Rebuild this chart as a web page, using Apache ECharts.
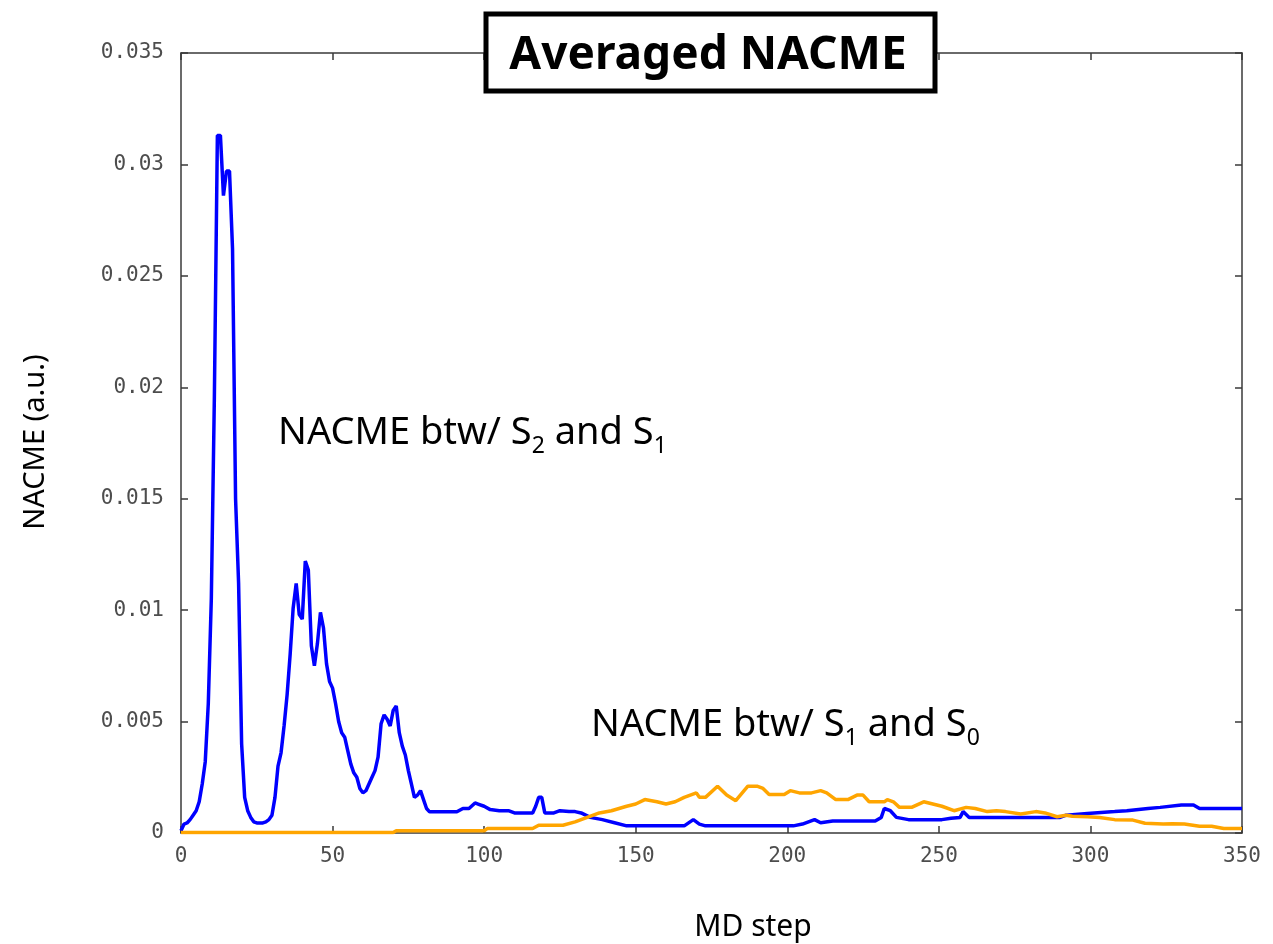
<!DOCTYPE html>
<html>
<head>
<meta charset="utf-8">
<script src="https://cdn.jsdelivr.net/npm/echarts@6/dist/echarts.min.js"></script>
<style>
  html, body { margin: 0; padding: 0; background: #fff; }
  #chart { width: 1273px; height: 944px; }
</style>
</head>
<body>
<div id="chart"></div>
<script>
// Averaged non-adiabatic coupling matrix elements along the MD trajectory

// S2-S1 coupling (blue)
const stepsS2S1 = [
  0, 1, 2, 3, 4, 5, 6, 7, 8, 9, 10, 11, 12, 13, 14, 15, 16, 17, 18, 19,
  20, 21, 22, 23, 24, 25, 26, 27, 28, 29, 30, 31, 32, 33, 34, 35, 36, 37, 38, 39,
  40, 41, 42, 43, 44, 45, 46, 47, 48, 49, 50, 51, 52, 53, 54, 55, 56, 57, 58, 59,
  60, 61, 62, 63, 64, 65, 66, 67, 68, 69, 70, 71, 72, 73, 74, 75, 76, 77, 78, 79,
  80, 81, 82, 86, 91, 93, 95, 97, 98, 100, 102, 105, 108, 110, 116, 117, 118, 119, 120, 123,
  125, 128, 130, 132, 135, 139, 143, 147, 166, 169, 171, 173, 202, 205, 209, 211, 215, 229, 231, 232,
  234, 236, 240, 251, 254, 257, 258, 260, 290, 292, 299, 308, 312, 319, 323, 330, 334, 336, 350
];
const nacmeS2S1 = [
  0.0001, 0.0004, 0.00045, 0.0006, 0.0008, 0.001, 0.0014, 0.0022, 0.0032, 0.0058,
  0.0105, 0.0195, 0.0313, 0.0313, 0.0286, 0.0297, 0.0297, 0.0262, 0.0150, 0.0112,
  0.0040, 0.0016, 0.0010, 0.0007, 0.0005, 0.00045, 0.00045, 0.00045, 0.0005, 0.0006,
  0.0008, 0.0016, 0.0030, 0.0036, 0.0048, 0.0062, 0.0080, 0.0101, 0.0112, 0.0098,
  0.0096, 0.0122, 0.0118, 0.0084, 0.0075, 0.0085, 0.0099, 0.0092, 0.0076, 0.0068,
  0.0065, 0.0058, 0.0050, 0.0045, 0.0043, 0.0037, 0.0031, 0.0027, 0.0025, 0.0020,
  0.0018, 0.0019, 0.0022, 0.0025, 0.0028, 0.0034, 0.0049, 0.0053, 0.0051, 0.0048,
  0.0055, 0.0057, 0.0045, 0.0039, 0.0035, 0.0028, 0.0022, 0.0016, 0.0017, 0.0019,
  0.0015, 0.0011, 0.00095, 0.00095, 0.00095, 0.0011, 0.0011, 0.00135, 0.0013, 0.0012,
  0.00105, 0.001, 0.001, 0.0009, 0.0009, 0.0012, 0.0016, 0.0016, 0.0009, 0.0009,
  0.001, 0.00096, 0.00096, 0.0009, 0.0007, 0.0006, 0.00046, 0.00032, 0.00032, 0.0006,
  0.0004, 0.00032, 0.00032, 0.0004, 0.0006, 0.00046, 0.00054, 0.00054, 0.0007, 0.0011,
  0.001, 0.0007, 0.0006, 0.0006, 0.00066, 0.0007, 0.00096, 0.0007, 0.0007, 0.0008,
  0.00088, 0.00096, 0.001, 0.0011, 0.00115, 0.00126, 0.00126, 0.0011, 0.0011
];

// S1-S0 coupling (orange)
const stepsS1S0 = [
  0, 70, 71, 100, 101, 116, 118, 126, 130, 134, 138, 142, 147, 150, 153, 157, 160, 163, 166, 170,
  171, 173, 177, 180, 183, 187, 190, 192, 194, 199, 201, 204, 208, 211, 213, 216, 220, 223, 225, 227,
  232, 233, 235, 237, 241, 245, 248, 251, 255, 259, 262, 266, 269, 272, 277, 282, 285, 289, 292, 294,
  299, 303, 308, 314, 318, 324, 327, 331, 336, 340, 344, 350
];
const nacmeS1S0 = [
  0.00002, 0.00002, 0.0001, 0.0001, 0.0002, 0.0002, 0.00035, 0.00035, 0.0005, 0.0007,
  0.0009, 0.001, 0.0012, 0.0013, 0.0015, 0.0014, 0.0013, 0.0014, 0.0016, 0.0018,
  0.0016, 0.0016, 0.0021, 0.0017, 0.00145, 0.0021, 0.0021, 0.0020, 0.00173, 0.00173,
  0.0019, 0.0018, 0.0018, 0.0019, 0.0018, 0.0015, 0.0015, 0.0017, 0.0017, 0.0014,
  0.0014, 0.0015, 0.0014, 0.00115, 0.00115, 0.0014, 0.0013, 0.0012, 0.001, 0.00115,
  0.0011, 0.00096, 0.001, 0.00096, 0.00085, 0.00096, 0.0009, 0.00073, 0.0008, 0.00075,
  0.00073, 0.0007, 0.0006, 0.00058, 0.00044, 0.0004, 0.00042, 0.0004, 0.0003, 0.0003,
  0.0002, 0.0002
];

const xTicks = { min: 0, max: 350, interval: 50 };
const yTicks = { min: 0, max: 0.035, interval: 0.005 };

const pair = (xs, ys) => xs.map((x, i) => [x, ys[i]]);

const textFamily = '"Noto Sans", "Open Sans", sans-serif';
const tickFont = { fontFamily: '"DejaVu Sans Mono", monospace', fontSize: 21, color: '#4d4d4d' };
const frameLine = { lineStyle: { color: '#3a3a3a', width: 1.5 } };
const innerTick = { show: true, inside: true, length: 7, lineStyle: { color: '#3a3a3a', width: 1.5 } };

// rich-text styles for labels with subscripts
const subRich = {
  m: { fontFamily: textFamily, fontSize: 38, color: '#000', verticalAlign: 'bottom', padding: [0, 0, 6, 0] },
  s: { fontFamily: textFamily, fontSize: 23, color: '#000', verticalAlign: 'bottom' }
};

const chart = echarts.init(document.getElementById('chart'), null, { renderer: 'canvas' });

chart.setOption({
  backgroundColor: '#ffffff',
  animation: false,
  grid: { left: 181, right: 31, top: 53, bottom: 111, containLabel: false },
  xAxis: [
    {
      type: 'value', position: 'bottom',
      min: xTicks.min, max: xTicks.max, interval: xTicks.interval,
      axisLine: Object.assign({ show: true, onZero: false }, frameLine),
      axisTick: innerTick,
      axisLabel: Object.assign({ margin: 13 }, tickFont),
      splitLine: { show: false }
    },
    {
      type: 'value', position: 'top',
      min: xTicks.min, max: xTicks.max, interval: xTicks.interval,
      axisLine: Object.assign({ show: true, onZero: false }, frameLine),
      axisTick: innerTick,
      axisLabel: { show: false },
      splitLine: { show: false }
    }
  ],
  yAxis: [
    {
      type: 'value', position: 'left',
      min: yTicks.min, max: yTicks.max, interval: yTicks.interval,
      axisLine: Object.assign({ show: true, onZero: false }, frameLine),
      axisTick: innerTick,
      axisLabel: Object.assign({ margin: 17 }, tickFont),
      splitLine: { show: false }
    },
    {
      type: 'value', position: 'right',
      min: yTicks.min, max: yTicks.max, interval: yTicks.interval,
      axisLine: Object.assign({ show: true, onZero: false }, frameLine),
      axisTick: innerTick,
      axisLabel: { show: false },
      splitLine: { show: false }
    }
  ],
  series: [
    {
      name: 'S2-S1',
      type: 'line',
      data: pair(stepsS2S1, nacmeS2S1),
      showSymbol: false,
      lineStyle: { color: '#0000ff', width: 3.5 },
      itemStyle: { color: '#0000ff' },
      z: 3
    },
    {
      name: 'S1-S0',
      type: 'line',
      data: pair(stepsS1S0, nacmeS1S0),
      showSymbol: false,
      lineStyle: { color: '#ffa500', width: 3.5 },
      itemStyle: { color: '#ffa500' },
      z: 4
    }
  ],
  graphic: [
    // boxed title
    {
      type: 'rect', z: 100,
      shape: { x: 486, y: 14, width: 449, height: 77 },
      style: { fill: '#ffffff', stroke: '#000000', lineWidth: 5 }
    },
    {
      type: 'text', z: 101, x: 708, y: 56,
      style: {
        text: 'Averaged NACME',
        font: 'bold 46px ' + textFamily,
        fill: '#000000', textAlign: 'center', textVerticalAlign: 'middle'
      }
    },
    // curve annotations
    {
      type: 'text', z: 50, x: 278, y: 436,
      style: { text: '{m|NACME btw/ S}{s|2}{m| and S}{s|1}', textVerticalAlign: 'middle', rich: subRich }
    },
    {
      type: 'text', z: 50, x: 591, y: 728,
      style: { text: '{m|NACME btw/ S}{s|1}{m| and S}{s|0}', textVerticalAlign: 'middle', rich: subRich }
    },
    // axis titles
    {
      type: 'text', z: 50, x: 36, y: 442, rotation: Math.PI / 2,
      style: {
        text: 'NACME (a.u.)',
        font: '29px ' + textFamily,
        fill: '#000', textAlign: 'center', textVerticalAlign: 'middle'
      }
    },
    {
      type: 'text', z: 50, x: 753, y: 927,
      style: {
        text: 'MD step',
        font: '30px ' + textFamily,
        fill: '#000', textAlign: 'center', textVerticalAlign: 'middle'
      }
    }
  ]
});
</script>
</body>
</html>
